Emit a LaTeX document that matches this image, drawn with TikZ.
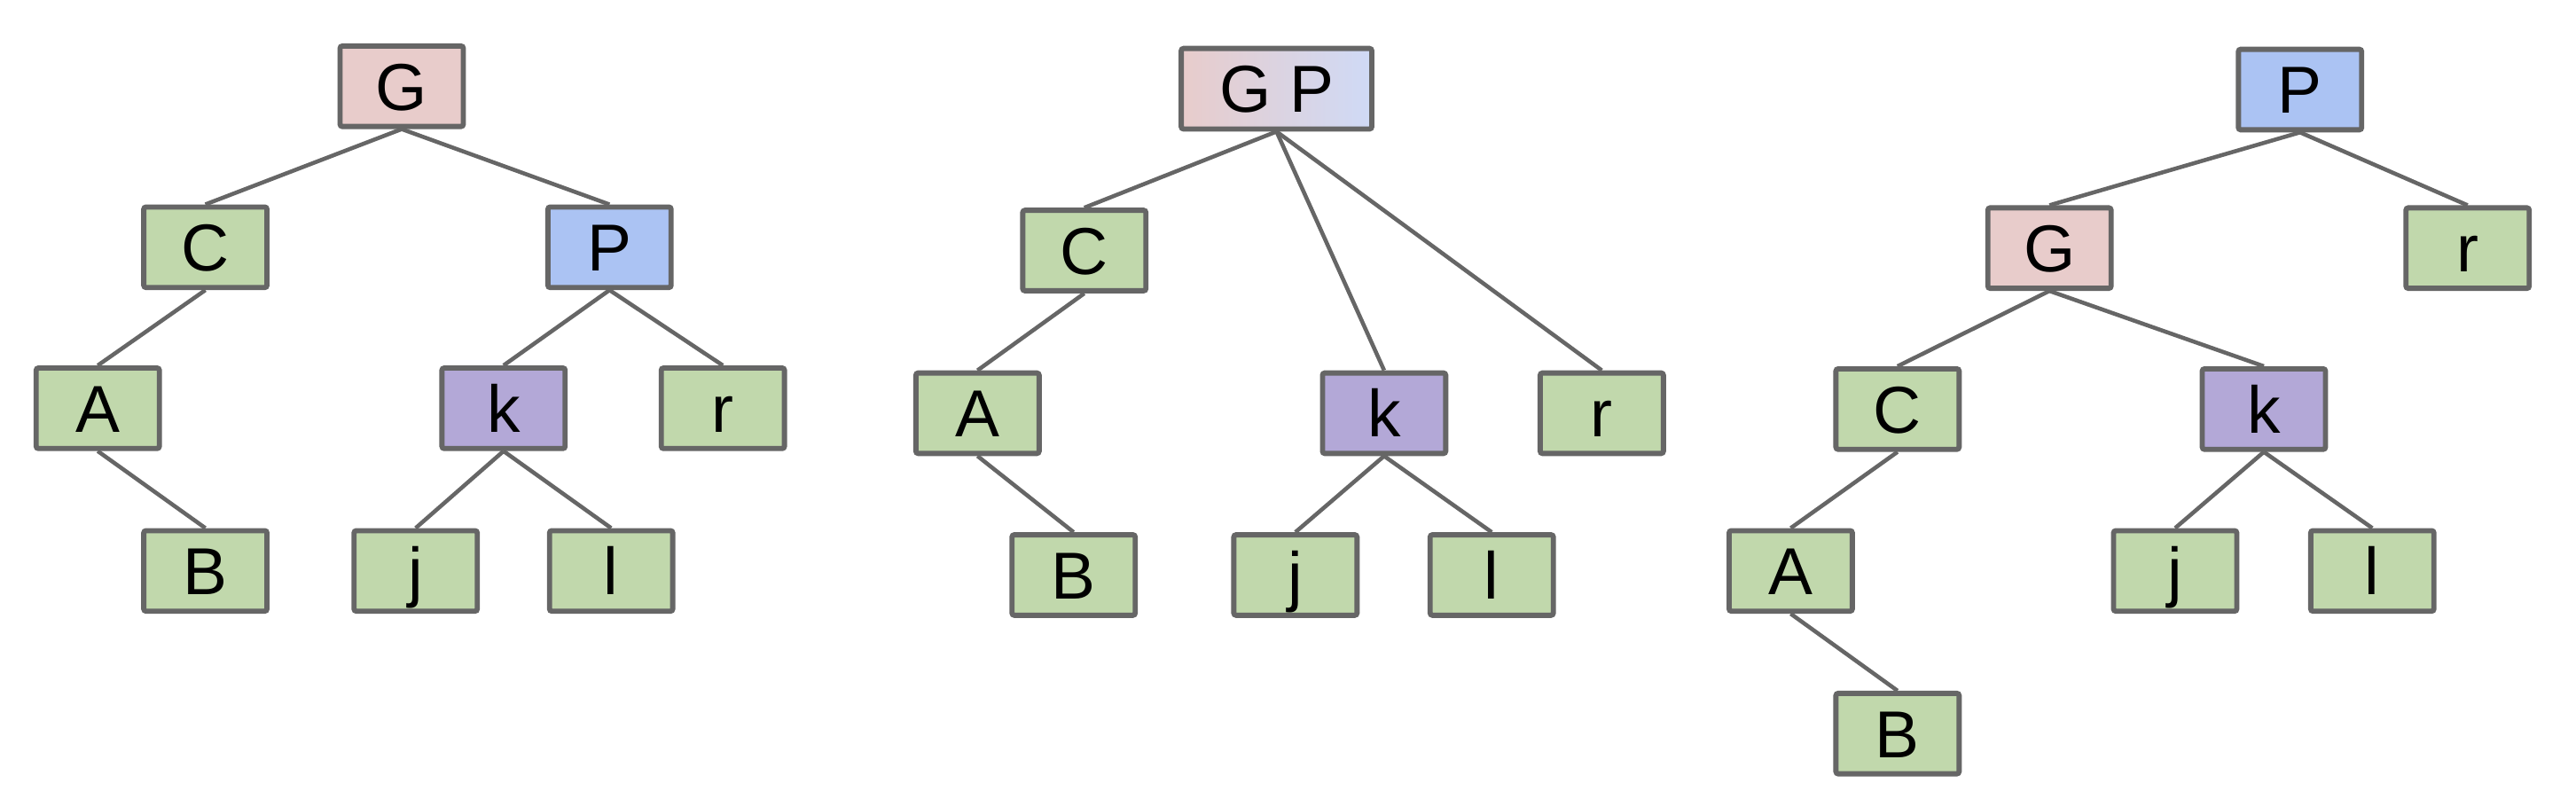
\documentclass[tikz,border=0pt]{standalone}
\usepackage{fontspec}
\setmainfont{Liberation Sans}
\usepackage{tikz}

\definecolor{linegray}{HTML}{666666}
\definecolor{leafgreen}{HTML}{C1D8AC}
\definecolor{rootpink}{HTML}{E8CCCB}
\definecolor{rootblue}{HTML}{ABC3F3}
\definecolor{mergeblue}{HTML}{CFDAF6}
\definecolor{midpurple}{HTML}{B3A8D7}

\begin{document}
\begin{tikzpicture}[x=0.02cm,y=-0.02cm,line width=1.4pt,
                    tree node/.style={rectangle,draw=linegray,line width=1.8pt,rounded corners=0.8pt,
                      minimum width=1.5cm,minimum height=0.98cm,inner sep=0pt,
                      text height=16.5pt,text depth=0pt,font=\fontsize{23}{23}\selectfont},
                    green node/.style={tree node,fill=leafgreen},
                    pink node/.style={tree node,fill=rootpink},
                    blue node/.style={tree node,fill=rootblue},
                    purple node/.style={tree node,fill=midpurple}]
       \useasboundingbox (0,0) rectangle (1568,481);

       % first tree
       \node[pink node] (G1) at (244.5,52.5) {G};
       \node[green node] (C1) at (125,150.5) {C};
       \node[blue node] (P1) at (371,150.5) {P};
       \node[green node] (A1) at (59.5,248.5) {A};
       \node[purple node] (k1) at (306.5,248.5) {k};
       \node[green node] (r1) at (440,248.5) {r};
       \node[green node] (B1) at (125,347.5) {B};
       \node[green node] (j1) at (253,347.5) {j};
       \node[green node] (l1) at (372,347.5) {l};

       \path[draw=linegray]
         (G1.south) edge (C1.north)
                    edge (P1.north)
         (C1.south) edge (A1.north)
         (A1.south) edge (B1.north)
         (P1.south) edge (k1.north)
                    edge (r1.north)
         (k1.south) edge (j1.north)
                    edge (l1.north);

       % merged root
       \node[tree node,minimum width=2.32cm,left color=rootpink,right color=mergeblue] (GP2) at (777,54) {G P};
       \node[green node] (C2) at (660,152.5) {C};
       \node[green node] (A2) at (595,251.5) {A};
       \node[green node] (B2) at (653.5,350) {B};
       \node[purple node] (k2) at (842.5,251.5) {k};
       \node[green node] (r2) at (975,251.5) {r};
       \node[green node] (j2) at (788.5,350) {j};
       \node[green node] (l2) at (908,350) {l};

       \path[draw=linegray]
         (GP2.south) edge (C2.north)
                     edge (k2.north)
                     edge (r2.north)
         (C2.south) edge (A2.north)
         (A2.south) edge (B2.north)
         (k2.south) edge (j2.north)
                    edge (l2.north);

       % rotated tree
       \node[blue node] (P3) at (1400,54.5) {P};
       \node[pink node] (G3) at (1247.5,151) {G};
       \node[green node] (r3) at (1502,151) {r};
       \node[green node] (C3) at (1155,249) {C};
       \node[purple node] (k3) at (1378,249) {k};
       \node[green node] (A3) at (1090,347.5) {A};
       \node[green node] (j3) at (1324,347.5) {j};
       \node[green node] (l3) at (1444,347.5) {l};
       \node[green node] (B3) at (1155,446.5) {B};

       \path[draw=linegray]
         (P3.south) edge (G3.north)
                    edge (r3.north)
         (G3.south) edge (C3.north)
                    edge (k3.north)
         (C3.south) edge (A3.north)
         (A3.south) edge (B3.north)
         (k3.south) edge (j3.north)
                    edge (l3.north);
\end{tikzpicture}
\end{document}
